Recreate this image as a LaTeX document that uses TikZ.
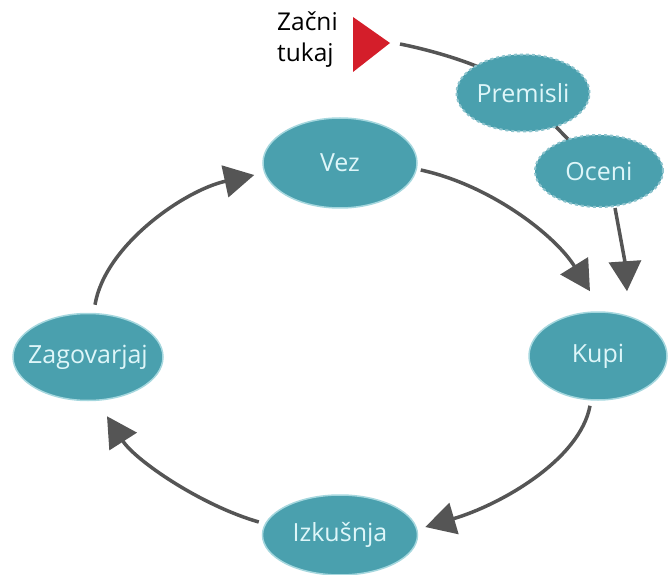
\documentclass[tikz,border=0pt]{standalone}
\usepackage{fontspec}
\setmainfont{Open Sans}
\usetikzlibrary{shapes.geometric,arrows.meta,backgrounds}
\definecolor{teal1}{RGB}{74,160,174}
\definecolor{tealedge}{RGB}{165,215,222}
\definecolor{txtc}{RGB}{222,246,249}
\definecolor{arrc}{RGB}{85,85,85}
\definecolor{startred}{RGB}{212,30,42}
\tikzset{
  bub/.style={ellipse, fill=teal1, draw=tealedge, line width=1.5pt, inner sep=-20pt,
    text=txtc, font=\fontsize{25}{28}\selectfont},
  dbub/.style={bub, draw={rgb,255:red,140;green,195;blue,205}, dashed, line width=2pt},
  arr/.style={draw=arrc, line width=3.5pt, -{Triangle[length=30pt,width=32pt]}},
  plain/.style={draw=arrc, line width=3.5pt},
}
\begin{document}
\begin{tikzpicture}[x=1pt,y=-1pt]
\useasboundingbox (0,0) rectangle (670,575);
% start marker
\fill[startred] (353,17) -- (390,43) -- (353,72) -- cycle;
\coordinate (tip) at (400,44);
\node[anchor=north west, align=left, font=\fontsize{24.5}{31}\selectfont, inner sep=0pt] (lbl) at (277,12) {Začni\\tukaj};
% nodes
\node[dbub, minimum width=133pt, minimum height=77pt] (prem) at (523,93) {Premisli};
\node[dbub, minimum width=128pt, minimum height=72pt] (oceni) at (599,171) {Oceni};
\node[bub, minimum width=154pt, minimum height=90pt] (vez) at (340,163) {Vez};
\node[bub, minimum width=138pt, minimum height=88pt] (kupi) at (598,356) {Kupi};
\node[bub, minimum width=150pt, minimum height=87pt] (zag) at (88,357) {Zagovarjaj};
\node[bub, minimum width=155pt, minimum height=80pt] (izk) at (340,535) {Izkušnja};
% start line behind the dashed bubbles
\begin{scope}[on background layer]
\draw[plain] (tip) .. controls (440,52) and (500,70) .. (prem.center);
\draw[plain] (prem.center) -- (oceni.center);
\end{scope}
% cycle arrows
\draw[arr] ([shift={(7,-8)}]zag.north) .. controls (105,245) and (185,190) .. ([shift={(-8,12)}]vez.west);
\draw[arr] ([shift={(3,7)}]vez.east) .. controls (490,185) and (555,235) .. ([shift={(-8,-20)}]kupi.north);
\draw[arr] ([shift={(16,0)}]oceni.south) .. controls (620,235) and (625,262) .. ([shift={(29,-20)}]kupi.north);
\draw[arr] ([shift={(-8,5)}]kupi.south) .. controls (580,460) and (500,505) .. ([shift={(7,-8)}]izk.east);
\draw[arr] ([shift={(-3,-13)}]izk.west) .. controls (200,505) and (135,460) .. ([shift={(19,15)}]zag.south);
\end{tikzpicture}
\end{document}
